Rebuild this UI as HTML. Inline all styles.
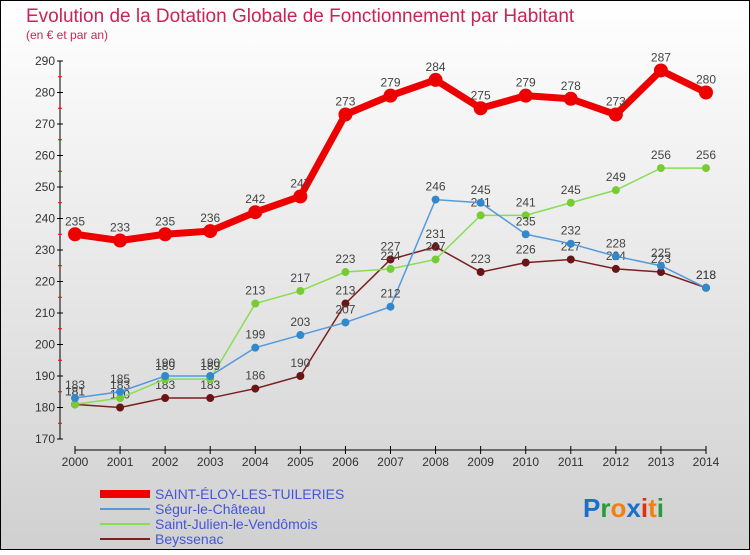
<!DOCTYPE html>
<html><head><meta charset="utf-8"><style>
html,body{margin:0;padding:0}
body{width:750px;height:550px;overflow:hidden;font-family:"Liberation Sans",sans-serif}
</style></head><body>
<svg id="chart" width="750" height="550" xmlns="http://www.w3.org/2000/svg">
<defs><linearGradient id="bg" x1="0" y1="0" x2="0" y2="1"><stop offset="0" stop-color="#ffffff"/><stop offset="1" stop-color="#d0d0d0"/></linearGradient></defs>
<rect x="0.5" y="0.5" width="749" height="549" fill="url(#bg)" stroke="#000"/>
<text x="26" y="22" font-size="19" fill="#cc2255">Evolution de la Dotation Globale de Fonctionnement par Habitant</text>
<text x="26" y="39" font-size="12" fill="#cc2255">(en € et par an)</text>
<g id="axes"></g>
<g id="series"></g>
<g id="legend"></g>
<g font-size="26" font-weight="bold" font-family="'Liberation Sans',sans-serif">
<text x="583" y="517"><tspan fill="#1a6fc9">P</tspan><tspan fill="#2a9a3a">r</tspan><tspan fill="#f08010">o</tspan><tspan fill="#1a6fc9">x</tspan><tspan fill="#e03010">i</tspan><tspan fill="#f08010">t</tspan><tspan fill="#2a9a3a">i</tspan></text>
</g>
</svg>
<script>
const years=[2000,2001,2002,2003,2004,2005,2006,2007,2008,2009,2010,2011,2012,2013,2014];
const yTicks=[170,180,190,200,210,220,230,240,250,260,270,280,290];
const saintEloy=[235,233,235,236,242,247,273,279,284,275,279,278,273,287,280];
const segur=[183,185,190,190,199,203,207,212,246,245,235,232,228,225,218];
const saintJulien=[181,183,189,189,213,217,223,224,227,241,241,245,249,256,256];
const beyssenac=[181,180,183,183,186,190,213,227,231,223,226,227,224,223,218];
const names=["SAINT-ÉLOY-LES-TUILERIES","Ségur-le-Château","Saint-Julien-le-Vendômois","Beyssenac"];
const NS="http://www.w3.org/2000/svg";
const X=i=>75+i*(706-75)/(years.length-1);
const Y=v=>439-(v-170)*(439-61)/120;
function mk(tag,attrs,parent){const e=document.createElementNS(NS,tag);for(const k in attrs)e.setAttribute(k,attrs[k]);parent.appendChild(e);return e;}
const axes=document.getElementById('axes');
let yAxis=mk('line',{x1:60,y1:61,x2:60,y2:439,stroke:'#000'},axes);


yTicks.forEach((t,i)=>{
  mk('line',{x1:57,y1:Y(t),x2:63,y2:Y(t),stroke:'#000'},axes);
  if(i<yTicks.length-1) mk('line',{x1:58,y1:Y(t+5),x2:62,y2:Y(t+5),stroke:'#f00'},axes);
  const tx=mk('text',{x:55,y:Y(t)+4,'font-size':12,'text-anchor':'end',fill:'#333'},axes);
  
  
  tx.textContent=t;
});
let xAxis=mk('line',{x1:75,y1:450,x2:706,y2:450,stroke:'#000'},axes);


years.forEach((yr,i)=>{
  mk('line',{x1:X(i),y1:446,x2:X(i),y2:454,stroke:'#000'},axes);
  const tx=mk('text',{x:X(i),y:466,'font-size':12,'text-anchor':'middle',fill:'#333'},axes);
  
  
  tx.textContent=yr;
});
const series=[
 {d:beyssenac,c:'#7a2020',f:'#6a1515',w:1.5,r:4,key:'beyssenac'},
 {d:saintJulien,c:'#88dd55',f:'#77cc33',w:1.5,r:4,key:'saint-julien'},
 {d:segur,c:'#5599dd',f:'#3388cc',w:1.5,r:4,key:'segur'},
 {d:saintEloy,c:'#ee0000',f:'#ee0000',w:7,r:7,key:'saint-eloy'}
];
const sg=document.getElementById('series');
series.forEach(s=>{
  const g=mk('g',{},sg);
  
  
  mk('polyline',{points:s.d.map((v,i)=>X(i)+','+Y(v)).join(' '),fill:'none',stroke:s.c,'stroke-width':s.w},g);
  s.d.forEach((v,i)=>{
    const p=mk('circle',{cx:X(i),cy:Y(v),r:s.r,fill:s.f},g);
    
    
    const t=mk('text',{x:X(i),y:Y(v)-9,'font-size':12,'text-anchor':'middle',fill:'#444'},g);
    
    
    t.textContent=v;
  });
});
const lg=document.getElementById('legend');
const lc=['#ee0000','#5599dd','#88dd55','#7a2020'],lw=[8,2,2,2];
names.forEach((n,i)=>{
  const y=494+i*15;
  const g=mk('g',{},lg);
  
  
  mk('line',{x1:100,y1:y,x2:150,y2:y,stroke:lc[i],'stroke-width':lw[i]},g);
  const t=mk('text',{x:155,y:y+5,'font-size':14,fill:'#4455dd'},g);
  t.textContent=n;
});
</script>
</body></html>
